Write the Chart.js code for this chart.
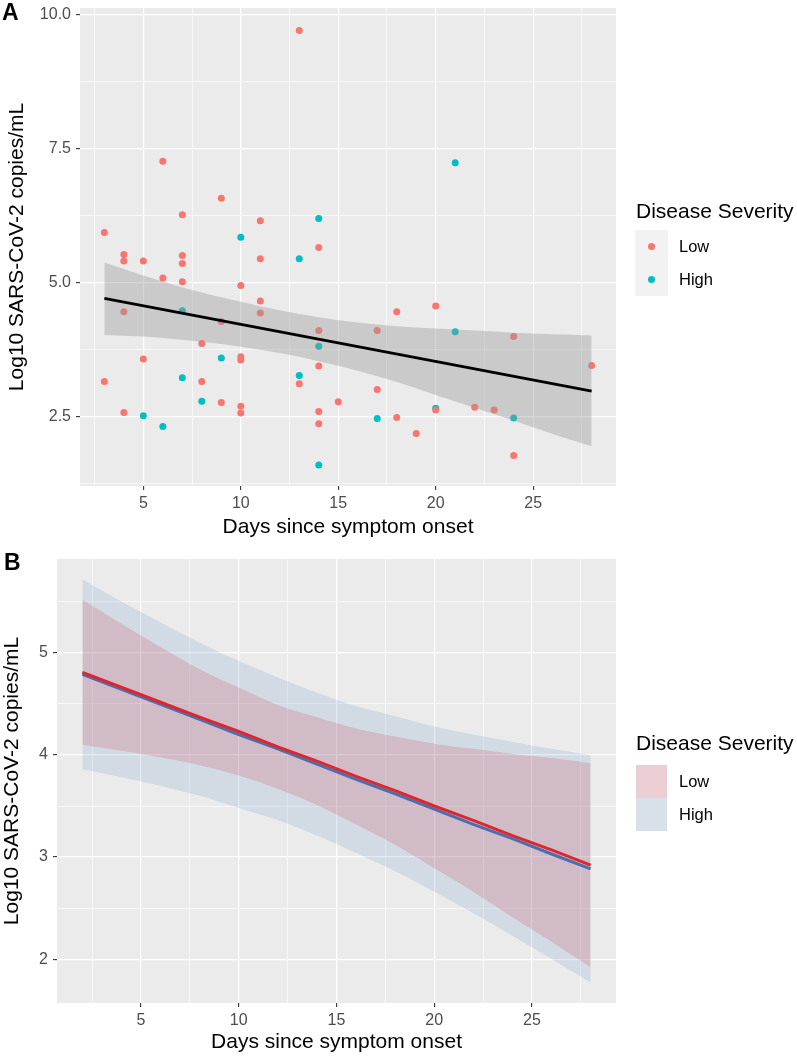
<!DOCTYPE html>
<html>
<head>
<meta charset="utf-8">
<style>
  html, body { margin: 0; padding: 0; background: #fff; }
  #wrap { position: relative; width: 797px; height: 1058px; }
  canvas { position: absolute; left: 0px; }
</style>
<script src="https://cdn.jsdelivr.net/npm/chart.js@4.4.1/dist/chart.umd.min.js"></script>
</head>
<body>
<div id="wrap">
  <canvas id="chartA" width="797" height="545" style="top:0px"></canvas>
  <canvas id="chartB" width="797" height="538" style="top:520px"></canvas>
</div>
<script>
// ---- panel A: individual samples ----
var lowDays  = [3,3,4,4,4,4,5,5,6,6,7,7,7,7,8,8,9,9,9,10,10,10,10,10,11,11,11,11,13,13,14,14,14,14,14,15,17,17,18,18,19,20,20,22,23,24,24,28];
var lowLoad  = [5.93,3.15, 5.52,5.40,4.45,2.57, 5.40,3.57, 7.26,5.08, 6.26,5.50,5.35,5.01, 3.86,3.15, 6.57,4.27,2.76,
                4.94,3.61,3.55,2.69,2.56, 6.15,5.44,4.65,4.43, 9.70,3.11, 5.65,4.10,3.44,2.59,2.36, 2.77, 4.10,3.00,
                4.45,2.48, 2.18, 4.56,2.62, 2.67, 2.62, 3.99,1.77, 3.45];
var highDays = [5,6,7,7,8,9,10,13,13,14,14,14,17,20,21,21,24];
var highLoad = [2.51,2.31,4.47,3.22,2.78,3.59,5.84,5.44,3.26,6.19,3.81,1.59,2.46,2.65,7.23,4.08,2.47];

// overall linear fit and its confidence band
var fitDays   = [3, 28];
var fitLoad   = [4.70, 2.97];
var bandDays  = [3,5,8,10,12,14,16,18,20,22,24,26,28];
var bandUpper = [5.37,5.13,4.81,4.64,4.48,4.35,4.25,4.18,4.14,4.10,4.06,4.03,4.01];
var bandLower = [4.02,3.99,3.89,3.80,3.68,3.53,3.35,3.14,2.90,2.66,2.42,2.17,1.94];

// ---- panel B: fits by severity ----
var curveDays = [2,5,8,10,12,14,16,18,20,22,24,26,28];
var lowFit    = [4.81,4.59,4.37,4.23,4.08,3.94,3.79,3.65,3.50,3.36,3.21,3.07,2.92];
var lowUpper  = [5.52,5.17,4.84,4.66,4.49,4.37,4.26,4.18,4.11,4.06,4.01,3.97,3.92];
var lowLower  = [4.10,4.01,3.90,3.80,3.67,3.51,3.32,3.12,2.89,2.66,2.41,2.17,1.92];
var highFit   = [4.79,4.57,4.35,4.20,4.06,3.91,3.76,3.62,3.47,3.32,3.18,3.03,2.885];
var highUpper = [5.72,5.40,5.10,4.92,4.76,4.61,4.48,4.38,4.28,4.20,4.13,4.06,4.00];
var highLower = [3.86,3.74,3.60,3.48,3.36,3.21,3.04,2.86,2.66,2.45,2.23,2.00,1.77];

// axis breaks
var xMajor   = [5,10,15,20,25];
var xLabels  = ['5','10','15','20','25'];
var xMinor   = [2.5,7.5,12.5,17.5,22.5,27.5];
var yMajorA  = [2.5,5,7.5,10];
var yLabelsA = ['2.5','5.0','7.5','10.0'];
var yMinorA  = [1.25,3.75,6.25,8.75];
var yMajorB  = [2,3,4,5];
var yLabelsB = ['2','3','4','5'];
var yMinorB  = [2.5,3.5,4.5,5.5];

var FONT = "'Liberation Sans', Arial, sans-serif";
Chart.defaults.font.family = FONT;

function pts(xs, ys) {
    return xs.map(function (x, i) { return {x: x, y: ys[i]}; });
}

function tickList(major, labels, minor) {
    var t = major.map(function (v, i) { return {value: v, lbl: labels[i], minor: false}; });
    minor.forEach(function (v) { t.push({value: v, lbl: '', minor: true}); });
    return t.sort(function (a, b) { return a.value - b.value; });
}

function axis(o) {
    return {
        type: 'linear', min: o.min, max: o.max,
        afterBuildTicks: function (s) {
            s.ticks = o.ticks.map(function (t) { return {value: t.value, lbl: t.lbl, minor: t.minor}; });
        },
        afterFit: function (s) {
            if (o.width) s.width = o.width;
            if (o.height) s.height = o.height;
            s.paddingTop = 0; s.paddingBottom = 0; s.paddingLeft = 0; s.paddingRight = 0;
        },
        border: {display: false},
        grid: {
            color: '#FFFFFF',
            lineWidth: function (c) { return c.tick && c.tick.minor ? 0.6 : 1.2; },
            drawTicks: true, tickLength: 4, tickWidth: 1.1,
            tickColor: function (c) { return c.tick && c.tick.minor ? 'rgba(0,0,0,0)' : '#333333'; }
        },
        ticks: {
            autoSkip: false, maxRotation: 0, padding: o.tickPad, color: '#4D4D4D', font: {size: 16},
            callback: function (v, i, t) { return t[i].lbl; }
        },
        title: {display: true, text: o.title, color: '#000000', font: {size: 21, lineHeight: 1.2}, padding: o.titlePad}
    };
}

var panelBg = {
    id: 'panelBg',
    beforeDraw: function (chart) {
        var a = chart.chartArea, ctx = chart.ctx;
        ctx.save();
        ctx.fillStyle = '#EBEBEB';
        ctx.fillRect(a.left, a.top, a.right - a.left, a.bottom - a.top);
        ctx.restore();
    }
};

// tag letter + ggplot style legend, entries taken from datasets carrying legendColor
var panelText = {
    id: 'panelText',
    afterDraw: function (chart, args, o) {
        var ctx = chart.ctx;
        ctx.save();
        ctx.fillStyle = '#000';
        ctx.textBaseline = 'middle';
        ctx.textAlign = 'left';
        ctx.font = 'bold 23px ' + FONT;
        ctx.fillText(o.tag, o.tagX, o.tagY);
        ctx.font = '21px ' + FONT;
        ctx.fillText('Disease Severity', o.legendX, o.titleY);
        var items = chart.data.datasets.filter(function (d) { return d.legendColor; });
        items.forEach(function (d, i) {
            var top = o.keyTop + i * o.keySize;
            ctx.fillStyle = '#F2F2F2';
            ctx.fillRect(o.keyX, top, o.keyW, o.keySize);
            ctx.fillStyle = d.legendColor;
            if (d.legendKind === 'point') {
                ctx.beginPath();
                ctx.arc(o.keyX + o.keyW / 2, top + o.keySize / 2, 3.5, 0, Math.PI * 2);
                ctx.fill();
            } else {
                ctx.fillRect(o.keyX, top, o.keyW, o.keySize);
            }
            ctx.fillStyle = '#000';
            ctx.font = '16.5px ' + FONT;
            ctx.fillText(d.label, o.labelX, top + o.keySize / 2 + 1);
        });
        ctx.restore();
    }
};

var LOW = '#F8766D', HIGH = '#00BFC4';

var chartA = new Chart(document.getElementById('chartA').getContext('2d'), {
    type: 'line',
    data: {
        datasets: [{
            label: 'fit', data: pts(fitDays, fitLoad),
            borderColor: '#000000', borderWidth: 2.8, pointRadius: 0, fill: false
        }, {
            label: 'ci upper', data: pts(bandDays, bandUpper),
            borderColor: 'rgba(0,0,0,0)', borderWidth: 0, pointRadius: 0,
            backgroundColor: 'rgba(153,153,153,0.4)', fill: '+1', cubicInterpolationMode: 'monotone'
        }, {
            label: 'ci lower', data: pts(bandDays, bandLower),
            borderColor: 'rgba(0,0,0,0)', borderWidth: 0, pointRadius: 0, fill: false,
            cubicInterpolationMode: 'monotone'
        }, {
            label: 'Low', data: pts(lowDays, lowLoad), showLine: false,
            pointRadius: 3.5, pointBackgroundColor: LOW, pointBorderColor: LOW, pointBorderWidth: 0,
            legendColor: LOW, legendKind: 'point'
        }, {
            label: 'High', data: pts(highDays, highLoad), showLine: false,
            pointRadius: 3.5, pointBackgroundColor: HIGH, pointBorderColor: HIGH, pointBorderWidth: 0,
            legendColor: HIGH, legendKind: 'point'
        }]
    },
    options: {
        responsive: false, animation: false, events: [],
        layout: {padding: {left: 0, right: 181, top: 8, bottom: 0}},
        plugins: {
            legend: {display: false}, tooltip: {enabled: false},
            panelText: {tag: 'A', tagX: 2, tagY: 14, legendX: 636, titleY: 212,
                        keyX: 635, keyW: 33, keySize: 33, keyTop: 230, labelX: 679}
        },
        scales: {
            x: axis({min: 1.75, max: 29.25, ticks: tickList(xMajor, xLabels, xMinor), height: 59,
                     tickPad: 4, title: 'Days since symptom onset', titlePad: {top: 0, bottom: 5}}),
            y: axis({min: 1.2, max: 10.12, ticks: tickList(yMajorA, yLabelsA, yMinorA), width: 80,
                     tickPad: 5, title: 'Log10 SARS-CoV-2 copies/mL', titlePad: {top: 5, bottom: 0}})
        }
    },
    plugins: [panelBg, panelText]
});

var chartB = new Chart(document.getElementById('chartB').getContext('2d'), {
    type: 'line',
    data: {
        datasets: [{
            label: 'Low fit', data: pts(curveDays, lowFit),
            borderColor: '#E0262B', borderWidth: 3, pointRadius: 0, fill: false
        }, {
            label: 'High fit', data: pts(curveDays, highFit),
            borderColor: '#4A6FB0', borderWidth: 3, pointRadius: 0, fill: false
        }, {
            label: 'Low', data: pts(curveDays, lowUpper),
            borderColor: 'rgba(0,0,0,0)', borderWidth: 0, pointRadius: 0,
            backgroundColor: 'rgba(200,30,60,0.17)', fill: '+1', cubicInterpolationMode: 'monotone',
            legendColor: 'rgba(200,30,60,0.17)', legendKind: 'box'
        }, {
            label: 'Low lower', data: pts(curveDays, lowLower),
            borderColor: 'rgba(0,0,0,0)', borderWidth: 0, pointRadius: 0, fill: false,
            cubicInterpolationMode: 'monotone'
        }, {
            label: 'High', data: pts(curveDays, highUpper),
            borderColor: 'rgba(0,0,0,0)', borderWidth: 0, pointRadius: 0,
            backgroundColor: 'rgba(70,130,180,0.15)', fill: '+1', cubicInterpolationMode: 'monotone',
            legendColor: 'rgba(70,130,180,0.15)', legendKind: 'box'
        }, {
            label: 'High lower', data: pts(curveDays, highLower),
            borderColor: 'rgba(0,0,0,0)', borderWidth: 0, pointRadius: 0, fill: false,
            cubicInterpolationMode: 'monotone'
        }]
    },
    options: {
        responsive: false, animation: false, events: [],
        layout: {padding: {left: 0, right: 181, top: 39, bottom: 0}},
        plugins: {
            legend: {display: false}, tooltip: {enabled: false},
            panelText: {tag: 'B', tagX: 4, tagY: 44, legendX: 636, titleY: 224,
                        keyX: 636, keyW: 31, keySize: 33, keyTop: 245, labelX: 679}
        },
        scales: {
            x: axis({min: 0.7, max: 29.3, ticks: tickList(xMajor, xLabels, xMinor), height: 55,
                     tickPad: 4, title: 'Days since symptom onset', titlePad: {top: 0, bottom: 3}}),
            y: axis({min: 1.57, max: 5.92, ticks: tickList(yMajorB, yLabelsB, yMinorB), width: 57,
                     tickPad: 5, title: 'Log10 SARS-CoV-2 copies/mL', titlePad: {top: 0, bottom: 0}})
        }
    },
    plugins: [panelBg, panelText]
});
</script>
</body>
</html>
